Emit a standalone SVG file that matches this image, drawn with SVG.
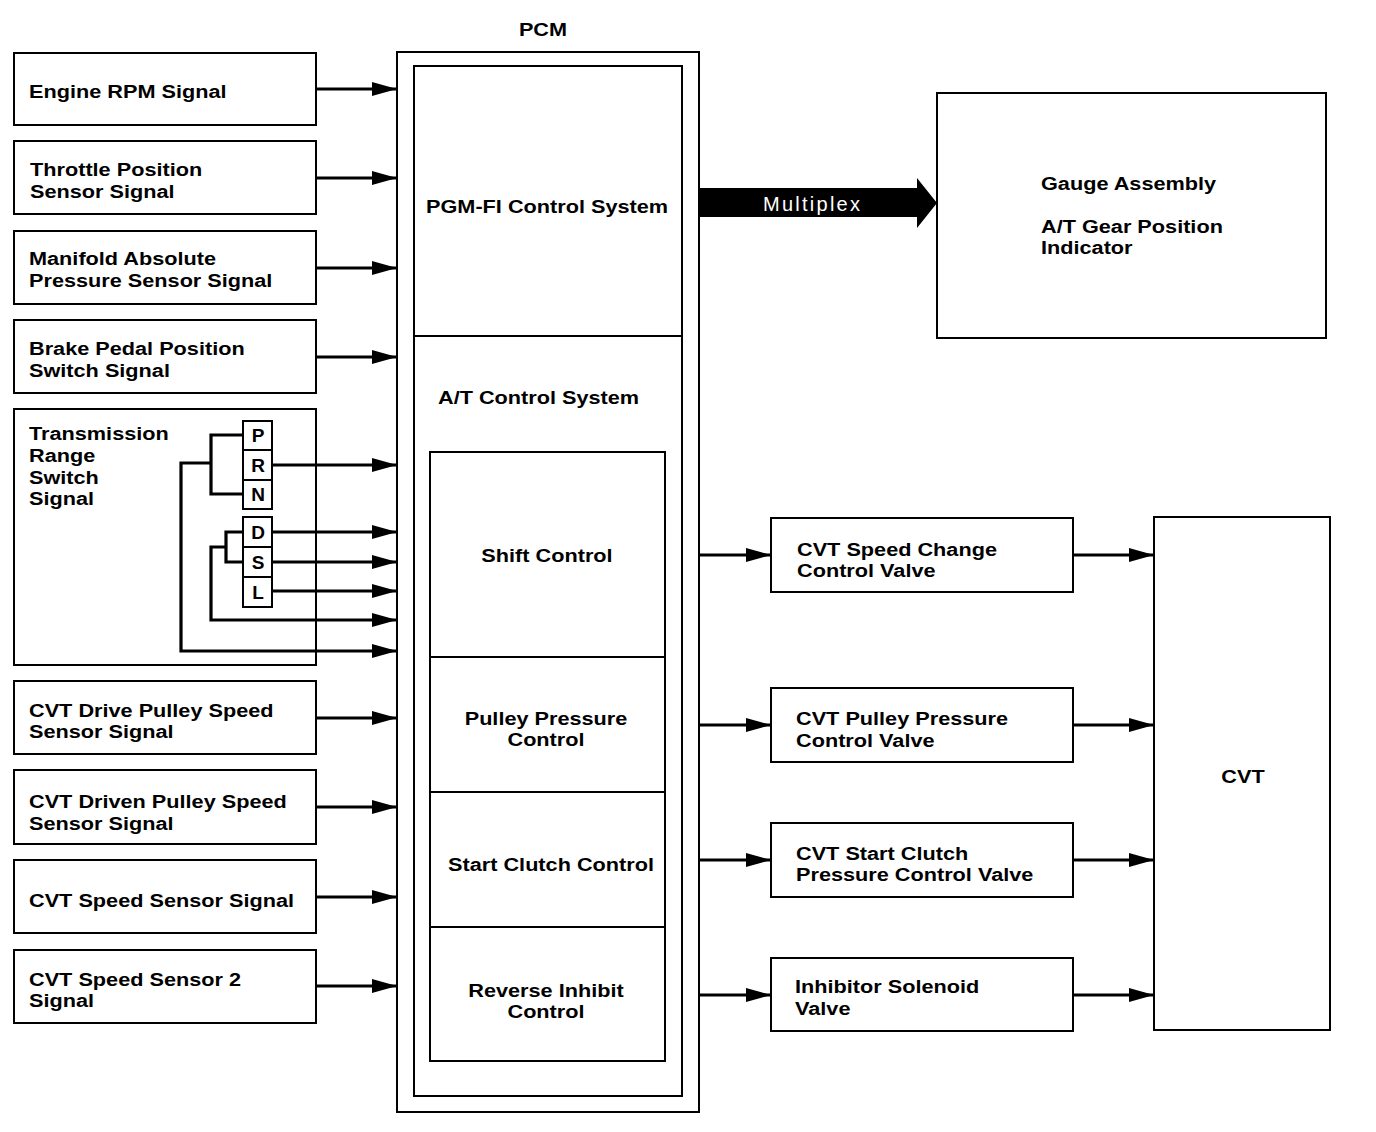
<svg xmlns="http://www.w3.org/2000/svg" width="1376" height="1132" viewBox="0 0 1376 1132">
<defs>
<marker id="ah" markerUnits="userSpaceOnUse" markerWidth="26" markerHeight="16" refX="25" refY="8" orient="auto">
<path d="M0,1 L25,8 L0,15 z" fill="#000"/>
</marker>
<style>
.box{fill:#fff;stroke:#000;stroke-width:2}
.t{font-family:"Liberation Sans",Arial,sans-serif;font-weight:bold;font-size:19.2px;fill:#000}
.c{text-anchor:middle}
.sw{font-family:"Liberation Sans",Arial,sans-serif;font-weight:bold;font-size:19px;fill:#000;text-anchor:middle}
.ln{fill:none;stroke:#000;stroke-width:3.2}
.ar{fill:none;stroke:#000;stroke-width:3.2;marker-end:url(#ah)}
</style>
</defs>
<rect width="1376" height="1132" fill="#fff"/>

<g id="pcm">
<text class="t c" transform="translate(543,36) scale(1.13,1)">PCM</text>
<rect class="box" x="397" y="52" width="302" height="1060"/>
<rect class="box" x="414" y="66" width="268" height="1030"/>
<line x1="414" y1="336" x2="682" y2="336" stroke="#000" stroke-width="2"/>
</g>
<g id="pgmfi">
<text class="t" transform="translate(426,213) scale(1.13,1)">PGM-FI Control System</text>
</g>
<g id="at-control">
<text class="t" transform="translate(438,404) scale(1.13,1)">A/T Control System</text>
<rect class="box" x="430" y="452" width="235" height="609"/>
</g>
<g id="shift-control">
<text class="t c" transform="translate(547,562) scale(1.13,1)">Shift Control</text>
<line x1="430" y1="657" x2="665" y2="657" stroke="#000" stroke-width="2"/>
</g>
<g id="pulley-pressure-control">
<text class="t c" transform="translate(546,725) scale(1.13,1)">Pulley Pressure<tspan x="0" dy="21.5">Control</tspan></text>
<line x1="430" y1="792" x2="665" y2="792" stroke="#000" stroke-width="2"/>
</g>
<g id="start-clutch-control">
<text class="t c" transform="translate(551,871) scale(1.13,1)">Start Clutch Control</text>
<line x1="430" y1="927" x2="665" y2="927" stroke="#000" stroke-width="2"/>
</g>
<g id="reverse-inhibit-control">
<text class="t c" transform="translate(546,997) scale(1.13,1)">Reverse Inhibit<tspan x="0" dy="21.5">Control</tspan></text>
</g>

<g id="engine-rpm">
<rect class="box" x="14" y="53" width="302" height="72"/>
<text class="t" transform="translate(29,98) scale(1.13,1)">Engine RPM Signal</text>
</g>
<g id="throttle">
<rect class="box" x="14" y="141" width="302" height="73"/>
<text class="t" transform="translate(30,176) scale(1.13,1)">Throttle Position<tspan x="0" dy="22">Sensor Signal</tspan></text>
</g>
<g id="map">
<rect class="box" x="14" y="231" width="302" height="73"/>
<text class="t" transform="translate(29,265) scale(1.13,1)">Manifold Absolute<tspan x="0" dy="22">Pressure Sensor Signal</tspan></text>
</g>
<g id="brake">
<rect class="box" x="14" y="320" width="302" height="73"/>
<text class="t" transform="translate(29,355) scale(1.13,1)">Brake Pedal Position<tspan x="0" dy="22">Switch Signal</tspan></text>
</g>
<g id="trs">
<rect class="box" x="14" y="409" width="302" height="256"/>
<text class="t" transform="translate(29,440) scale(1.13,1)">Transmission<tspan x="0" dy="22">Range</tspan><tspan x="0" dy="22">Switch</tspan><tspan x="0" dy="21.5">Signal</tspan></text>
<rect class="box" x="243" y="421" width="29" height="29"/>
<rect class="box" x="243" y="450" width="29" height="30"/>
<rect class="box" x="243" y="480" width="29" height="29"/>
<rect class="box" x="243" y="517" width="29" height="30"/>
<rect class="box" x="243" y="547" width="29" height="30"/>
<rect class="box" x="243" y="577" width="29" height="30"/>
<text class="sw" x="258" y="442">P</text>
<text class="sw" x="258" y="472">R</text>
<text class="sw" x="258" y="501">N</text>
<text class="sw" x="258" y="539">D</text>
<text class="sw" x="258" y="569">S</text>
<text class="sw" x="258" y="599">L</text>
</g>
<g id="drive-pulley">
<rect class="box" x="14" y="681" width="302" height="73"/>
<text class="t" transform="translate(29,717) scale(1.13,1)">CVT Drive Pulley Speed<tspan x="0" dy="21.5">Sensor Signal</tspan></text>
</g>
<g id="driven-pulley">
<rect class="box" x="14" y="770" width="302" height="74"/>
<text class="t" transform="translate(29,808) scale(1.13,1)">CVT Driven Pulley Speed<tspan x="0" dy="22">Sensor Signal</tspan></text>
</g>
<g id="speed-sensor">
<rect class="box" x="14" y="860" width="302" height="73"/>
<text class="t" transform="translate(29,907) scale(1.13,1)">CVT Speed Sensor Signal</text>
</g>
<g id="speed-sensor-2">
<rect class="box" x="14" y="950" width="302" height="73"/>
<text class="t" transform="translate(29,986) scale(1.13,1)">CVT Speed Sensor 2<tspan x="0" dy="21.5">Signal</tspan></text>
</g>

<g id="gauge">
<rect class="box" x="937" y="93" width="389" height="245"/>
<text class="t" transform="translate(1041,190) scale(1.13,1)">Gauge Assembly</text>
<text class="t" transform="translate(1041,233) scale(1.13,1)">A/T Gear Position<tspan x="0" dy="21.5">Indicator</tspan></text>
</g>
<g id="speed-change-valve">
<rect class="box" x="771" y="518" width="302" height="74"/>
<text class="t" transform="translate(797,556) scale(1.13,1)">CVT Speed Change<tspan x="0" dy="21.5">Control Valve</tspan></text>
</g>
<g id="pulley-pressure-valve">
<rect class="box" x="771" y="688" width="302" height="74"/>
<text class="t" transform="translate(796,725) scale(1.13,1)">CVT Pulley Pressure<tspan x="0" dy="22">Control Valve</tspan></text>
</g>
<g id="start-clutch-valve">
<rect class="box" x="771" y="823" width="302" height="74"/>
<text class="t" transform="translate(796,860) scale(1.13,1)">CVT Start Clutch<tspan x="0" dy="21.5">Pressure Control Valve</tspan></text>
</g>
<g id="inhibitor-valve">
<rect class="box" x="771" y="958" width="302" height="73"/>
<text class="t" transform="translate(795,993) scale(1.13,1)">Inhibitor Solenoid<tspan x="0" dy="22">Valve</tspan></text>
</g>
<g id="cvt">
<rect class="box" x="1154" y="517" width="176" height="513"/>
<text class="t c" transform="translate(1243,783) scale(1.13,1)">CVT</text>
</g>

<g id="connectors">
<path class="ar" d="M316,89 H397"/>
<path class="ar" d="M316,178 H397"/>
<path class="ar" d="M316,268 H397"/>
<path class="ar" d="M316,357 H397"/>
<path class="ar" d="M272,465 H397"/>
<path class="ar" d="M272,532 H397"/>
<path class="ar" d="M272,562 H397"/>
<path class="ar" d="M272,591 H397"/>
<path class="ln" d="M243,435 H211 V494 H243"/>
<path class="ar" d="M211,463 H181 V651 H397"/>
<path class="ln" d="M243,532 H226 V562 H243"/>
<path class="ar" d="M226,547 H211 V620 H397"/>
<path class="ar" d="M316,718 H397"/>
<path class="ar" d="M316,807 H397"/>
<path class="ar" d="M316,897 H397"/>
<path class="ar" d="M316,986 H397"/>
<path class="ar" d="M699,555 H771"/>
<path class="ar" d="M699,725 H771"/>
<path class="ar" d="M699,860 H771"/>
<path class="ar" d="M699,995 H771"/>
<path class="ar" d="M1073,555 H1154"/>
<path class="ar" d="M1073,725 H1154"/>
<path class="ar" d="M1073,860 H1154"/>
<path class="ar" d="M1073,995 H1154"/>
<g id="multiplex">
<polygon points="699,188 917,188 917,178 937,203 917,228 917,217 699,217" fill="#000"/>
<text x="763" y="211" font-family="'Liberation Sans',Arial,sans-serif" font-size="20" fill="#fff" textLength="97" lengthAdjust="spacing">Multiplex</text>
</g>
</g>
</svg>
